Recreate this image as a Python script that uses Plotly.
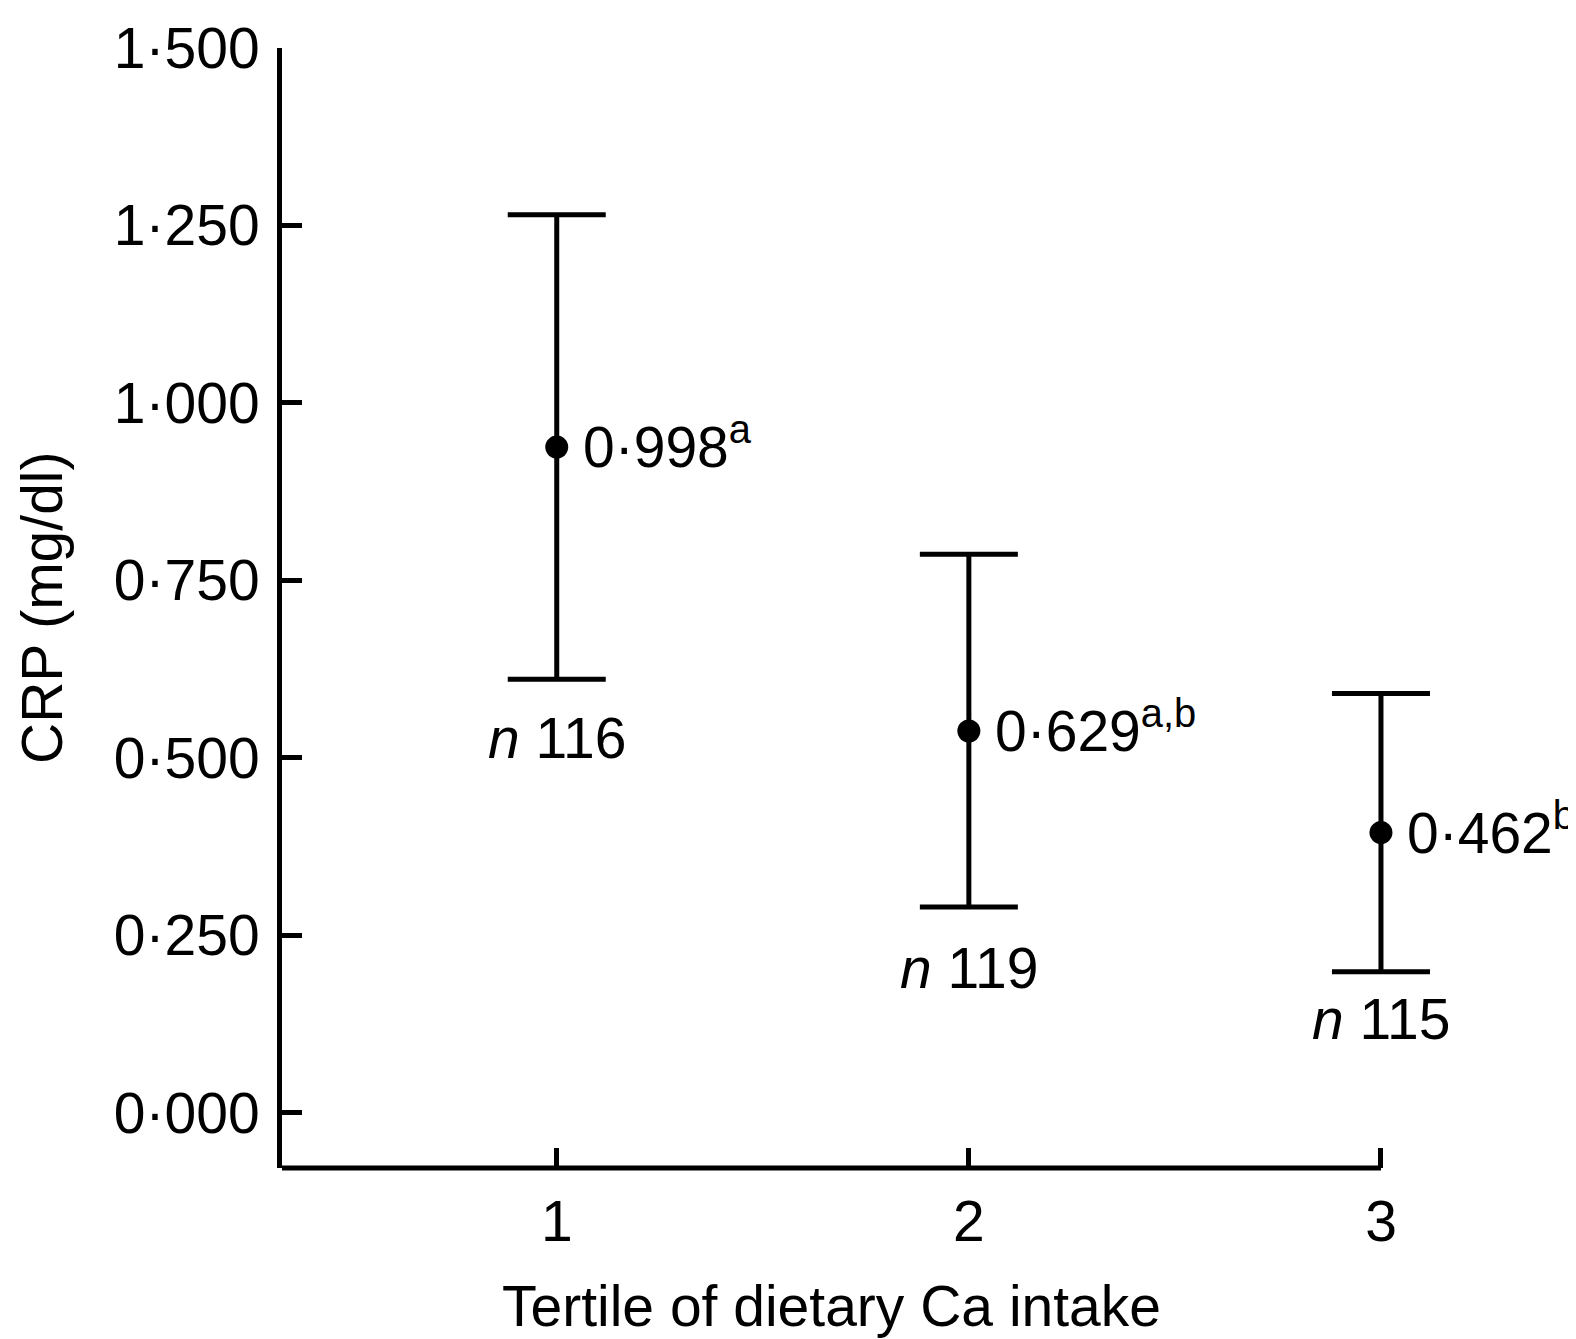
import plotly.graph_objects as go

# Data
tertiles = [1, 2, 3]
means = [0.938, 0.538, 0.395]
upper = [1.265, 0.787, 0.591]
lower = [0.611, 0.290, 0.199]
value_labels = ["0·998<sup>a</sup>", "0·629<sup>a,b</sup>", "0·462<sup>b</sup>"]
n_labels = ["<i>n</i> 116", "<i>n</i> 119", "<i>n</i> 115"]
ytick_vals = [0, 0.25, 0.5, 0.75, 1.0, 1.25, 1.5]
ytick_text = ["0·000", "0·250", "0·500", "0·750", "1·000", "1·250", "1·500"]
xtick_text = ["1", "2", "3"]
x_title = "Tertile of dietary Ca intake"
y_title = "CRP (mg/dl)"

FONT = "Liberation Sans, Arial, Helvetica, sans-serif"
FS = 57
LW = 5
X_MIN, X_AXIS_END, X_MAX = 1/3, 3, 3.25

fig = go.Figure()
fig.add_trace(go.Scatter(
    x=tertiles, y=means, mode="markers",
    marker=dict(color="black", size=23),
    error_y=dict(type="data", symmetric=False,
                 array=[u - m for u, m in zip(upper, means)],
                 arrayminus=[m - l for m, l in zip(means, lower)],
                 color="black", thickness=LW, width=49),
    cliponaxis=False, showlegend=False, hoverinfo="skip",
))

n_shifts = [-59, -61, -47]
for x, m, l, vl, nl, ns in zip(tertiles, means, lower, value_labels, n_labels, n_shifts):
    fig.add_annotation(x=x, y=m, text=vl, showarrow=False, xanchor="left",
                       yanchor="middle", xshift=24, yshift=4,
                       font=dict(family=FONT, size=FS, color="black"))
    fig.add_annotation(x=x, y=l, text=nl, showarrow=False, xanchor="center",
                       yanchor="middle", yshift=ns,
                       font=dict(family=FONT, size=FS, color="black"))

# x-axis title centred under the drawn axis line
fig.add_annotation(x=(X_MIN + X_AXIS_END) / 2, xref="x", y=0, yref="paper",
                   text=x_title, showarrow=False, xanchor="center",
                   yanchor="middle", yshift=-138,
                   font=dict(family=FONT, size=FS, color="black"))

# y-axis title
fig.add_annotation(x=0, xref="paper", y=0.5, yref="paper", text=y_title,
                   textangle=-90, showarrow=False, xanchor="center",
                   yanchor="middle", xshift=-240,
                   font=dict(family=FONT, size=FS, color="black"))

# x-axis baseline ending at the last tertile
fig.add_shape(type="line", xref="x", yref="paper", x0=X_MIN, x1=X_AXIS_END,
              y0=0, y1=0, line=dict(color="black", width=LW), layer="above")

fig.update_layout(
    width=1568, height=1331,
    margin=dict(l=274, r=92, t=40, b=171, autoexpand=False),
    paper_bgcolor="white", plot_bgcolor="white",
    font=dict(family=FONT, size=FS, color="black"),
    xaxis=dict(range=[X_MIN, X_MAX], tickvals=tertiles, ticktext=xtick_text,
               showline=False, automargin=False,
               ticks="inside", ticklen=20, tickwidth=LW, tickcolor="black",
               showgrid=False, zeroline=False, ticklabelstandoff=15),
    yaxis=dict(range=[-0.0775, 1.5], tickvals=ytick_vals, ticktext=ytick_text,
               showline=True, linecolor="black", linewidth=LW, automargin=False,
               ticks="inside", ticklen=20, tickwidth=LW, tickcolor="black",
               showgrid=False, zeroline=False, ticklabelstandoff=6),
)

fig.write_html("out.html")
